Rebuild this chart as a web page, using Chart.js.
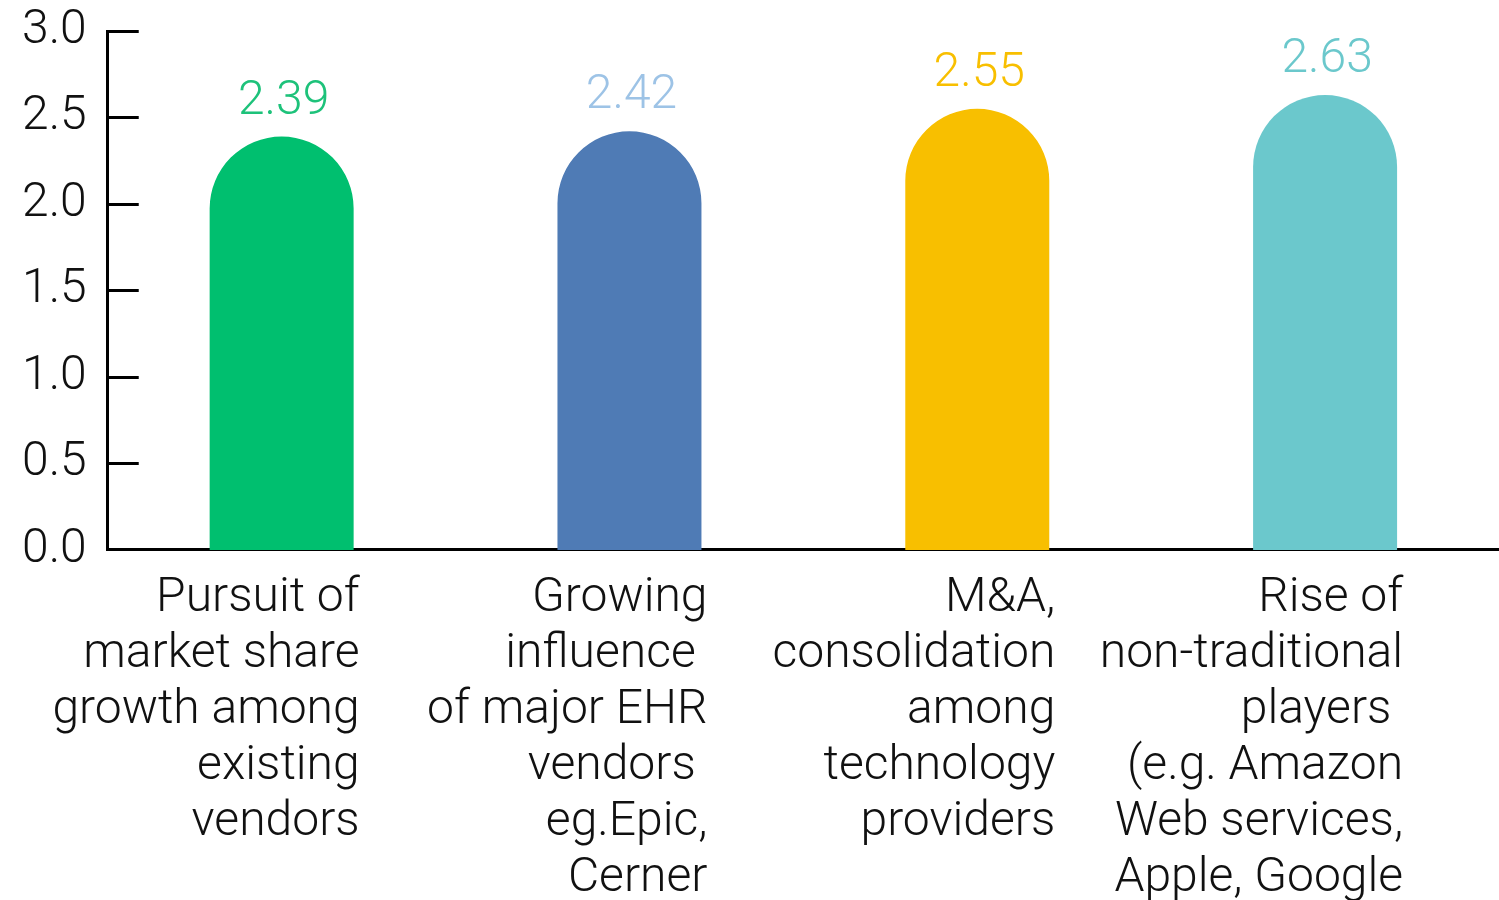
<!DOCTYPE html>
<html>
<head>
<meta charset="utf-8">
<script src="https://cdn.jsdelivr.net/npm/chart.js@4"></script>
<style>
html, body { margin: 0; padding: 0; background: #fff; overflow: hidden; }
#wrap { position: relative; width: 1499px; height: 928px; }
</style>
</head>
<body>
<div id="wrap"><canvas id="trendChart"></canvas></div>
<script>
// categories (multi-line, trailing spaces kept as in the source)
const categories = [
    ['Pursuit of', 'market share', 'growth among', 'existing', 'vendors'],
    ['Growing', 'influence ', 'of major EHR', 'vendors ', 'eg.Epic,', 'Cerner'],
    ['M&A,', 'consolidation', 'among', 'technology', 'providers'],
    ['Rise of', 'non-traditional', 'players ', '(e.g. Amazon', 'Web services,', 'Apple, Google']
];
const scores = [2.39, 2.42, 2.55, 2.63];
const yTicks = [0, 0.5, 1.0, 1.5, 2.0, 2.5, 3.0];

const barColours = ['#00BF6F', '#4F7BB5', '#F8BF00', '#6BC8CC'];
const labelColours = ['#1DC27A', '#9DC3E6', '#F8BF00', '#6BC8CC'];

const FONT = 'Roboto, "Noto Sans", sans-serif';

// short tick marks pointing into the plot, like the original
const innerTicks = {
    id: 'innerTicks',
    afterDraw(chart){
        const ctx = chart.ctx;
        const y = chart.scales.y;
        const left = chart.chartArea.left;
        ctx.save();
        ctx.strokeStyle = '#000';
        ctx.lineWidth = 3;
        y.ticks.forEach(t => {
            if (t.value === 0) return;
            const py = Math.round(y.getPixelForValue(t.value)) + 0.5;
            ctx.beginPath();
            ctx.moveTo(left, py);
            ctx.lineTo(left + 31, py);
            ctx.stroke();
        });
        ctx.restore();
    }
};

// value labels above the bars
const valueLabels = {
    id: 'valueLabels',
    afterDatasetsDraw(chart){
        const ctx = chart.ctx;
        const meta = chart.getDatasetMeta(0);
        ctx.save();
        ctx.font = '300 48px ' + FONT;
        ctx.textAlign = 'center';
        ctx.textBaseline = 'alphabetic';
        meta.data.forEach((bar, i) => {
            ctx.fillStyle = labelColours[i];
            ctx.fillText(scores[i].toFixed(2), bar.x + 2, bar.y - 23);
        });
        ctx.restore();
    }
};

document.addEventListener('DOMContentLoaded', function(){
    const ctx = document.getElementById('trendChart').getContext('2d');
    new Chart(ctx, {
        type: 'bar',
        data: {
            labels: categories,
            datasets: [{
                data: scores,
                backgroundColor: barColours,
                borderWidth: 0,
                borderRadius: {topLeft: 72, topRight: 72, bottomLeft: 0, bottomRight: 0},
                borderSkipped: false,
                categoryPercentage: 1,
                barPercentage: 0.414
            }]
        },
        options: {
            responsive: true,
            maintainAspectRatio: false,
            animation: false,
            layout: { padding: { left: 1, top: 31, right: 0, bottom: 0 } },
            plugins: {
                legend: { display: false },
                tooltip: { enabled: false }
            },
            scales: {
                x: {
                    afterFit(scale){
                        scale.paddingLeft = 0;
                        scale.paddingRight = 0;
                    },
                    grid: { display: false, drawTicks: false },
                    border: { display: true, color: '#000', width: 3 },
                    ticks: {
                        color: '#111',
                        font: { family: FONT, size: 48, weight: '300', lineHeight: 1.1667 },
                        align: 'end',
                        labelOffset: 78,
                        padding: 21,
                        autoSkip: false,
                        maxRotation: 0,
                        minRotation: 0
                    }
                },
                y: {
                    min: 0,
                    max: 3,
                    afterBuildTicks(scale){
                        scale.ticks = yTicks.map(v => ({value: v}));
                    },
                    afterFit(scale){
                        scale.paddingTop = 0;
                        scale.paddingBottom = 0;
                    },
                    grid: { display: false, drawTicks: false },
                    border: { display: true, color: '#000', width: 3 },
                    ticks: {
                        color: '#111',
                        font: { family: FONT, size: 48, weight: '300' },
                        padding: 21,
                        callback: v => Number(v).toFixed(1)
                    }
                }
            }
        },
        plugins: [innerTicks, valueLabels]
    });
});
</script>
</body>
</html>
